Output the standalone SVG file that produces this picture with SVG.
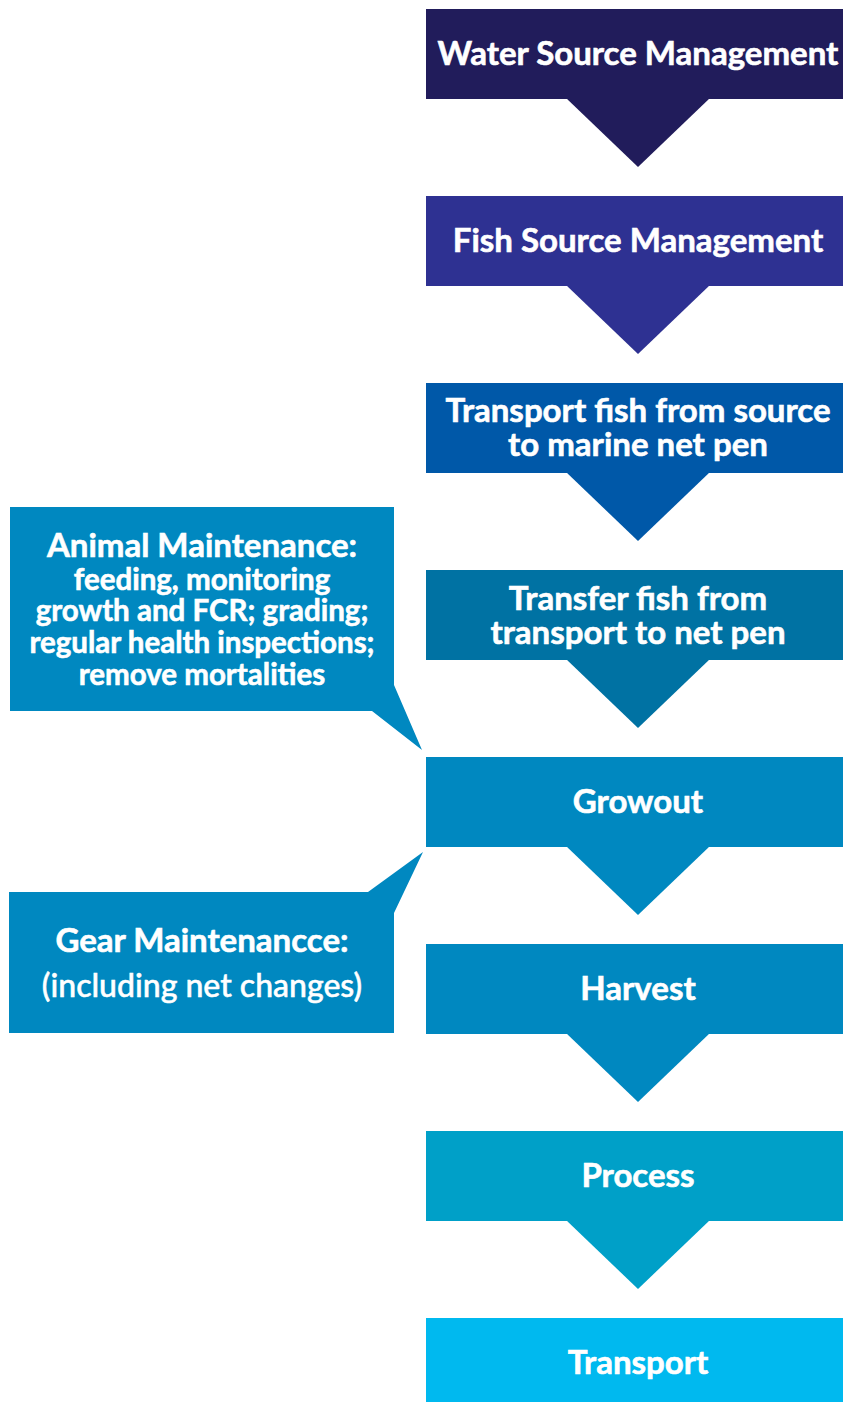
<svg xmlns="http://www.w3.org/2000/svg" width="843" height="1402" viewBox="0 0 843 1402">
<style>
.t{font-family:Lato,"Liberation Sans",sans-serif;font-weight:bold;fill:#fff;stroke:#fff;stroke-width:0.6px;text-anchor:middle;}
.b{font-size:33px;}
.s{font-size:29.5px;}
.r{font-weight:500;font-size:32px;stroke-width:0.5px;}
</style>
<rect width="843" height="1402" fill="#fff"/>
<g id="connectors">
<polygon points="566,98 710,98 638,167" fill="#211C5B"/>
<polygon points="566,285 710,285 638,354" fill="#2E3192"/>
<polygon points="566,472 710,472 638,541" fill="#0058A8"/>
<polygon points="566,659 710,659 638,728" fill="#0072A3"/>
<polygon points="566,846 710,846 638,915" fill="#0088C0"/>
<polygon points="566,1033 710,1033 638,1102" fill="#0088C0"/>
<polygon points="566,1220 710,1220 638,1289" fill="#00A0C8"/>
</g>
<g id="n1"><rect x="426" y="9" width="417" height="90" fill="#211C5B"/><text class="t b" x="638" y="65">Water Source Management</text></g>
<g id="n2"><rect x="426" y="196" width="417" height="90" fill="#2E3192"/><text class="t b" x="638" y="252">Fish Source Management</text></g>
<g id="n3"><rect x="426" y="383" width="417" height="90" fill="#0058A8"/><text class="t b" x="638" y="422">Transport fish from source</text><text class="t b" x="638" y="456">to marine net pen</text></g>
<g id="n4"><rect x="426" y="570" width="417" height="90" fill="#0072A3"/><text class="t b" x="638" y="610">Transfer fish from</text><text class="t b" x="638" y="644">transport to net pen</text></g>
<g id="n5"><rect x="426" y="757" width="417" height="90" fill="#0088C0"/><text class="t b" x="638" y="813">Growout</text></g>
<g id="n6"><rect x="426" y="944" width="417" height="90" fill="#0088C0"/><text class="t b" x="638" y="1000">Harvest</text></g>
<g id="n7"><rect x="426" y="1131" width="417" height="90" fill="#00A0C8"/><text class="t b" x="638" y="1187">Process</text></g>
<g id="n8"><rect x="426" y="1318" width="417" height="84" fill="#00B9EF"/><text class="t b" x="638" y="1374">Transport</text></g>
<g id="c1"><path d="M10,507 H394 V685 L422,750 L372,711 H10 Z" fill="#0088C0"/>
<text class="t b" x="202" y="557">Animal Maintenance:</text>
<text class="t s" x="202" y="590">feeding, monitoring</text>
<text class="t s" x="202" y="621">growth and FCR; grading;</text>
<text class="t s" x="202" y="653">regular health inspections;</text>
<text class="t s" x="202" y="685">remove mortalities</text></g>
<g id="c2"><path d="M9,892 H368 L423,852 L394,913 V1033 H9 Z" fill="#0088C0"/>
<text class="t b" x="202" y="952">Gear Maintenancce:</text>
<text class="t r" x="202" y="997">(including net changes)</text></g>
</svg>
